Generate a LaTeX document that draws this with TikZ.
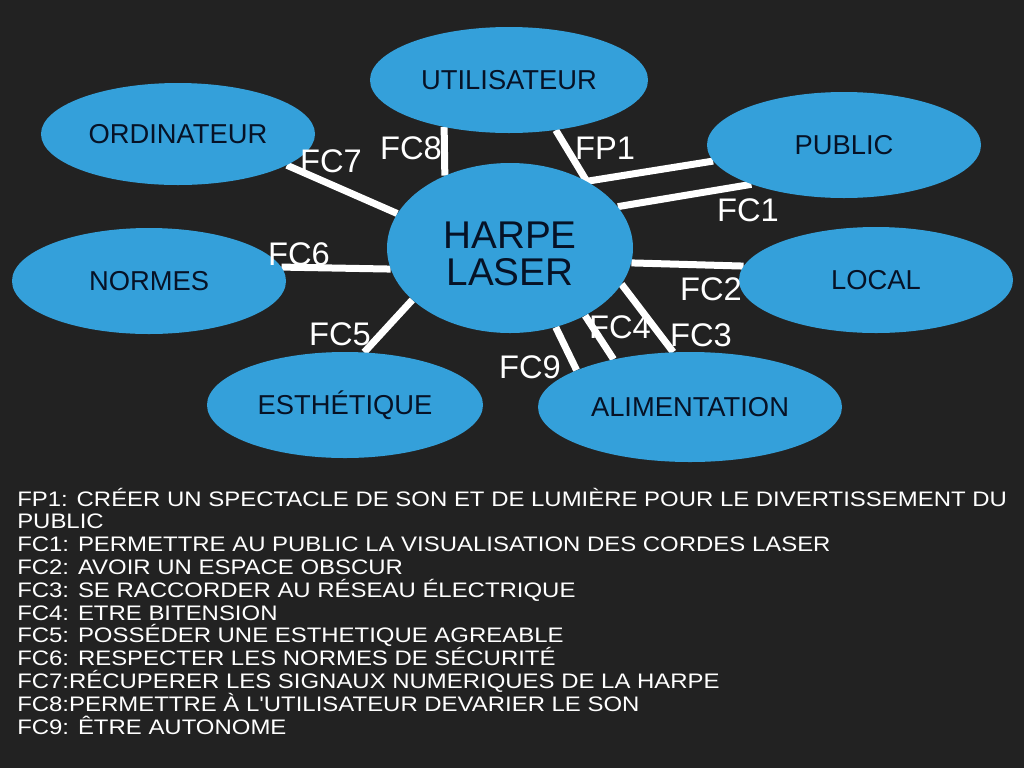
\documentclass[tikz,border=0pt]{standalone}
\usepackage{fontspec}
\setmainfont{Liberation Sans}
\newfontfamily\listefont[FakeStretch=1.14]{Liberation Sans}
\usetikzlibrary{shapes.geometric}
\usetikzlibrary{backgrounds}
\definecolor{fond}{RGB}{34,34,34}
\definecolor{bulle}{RGB}{52,160,218}
\definecolor{encre}{RGB}{6,18,38}
\tikzset{
  milieu/.style={ellipse,fill=bulle,inner sep=0,minimum width=205.5pt,minimum height=79.5pt,
    text=encre,text height=14.7pt,text depth=0pt,font=\fontsize{20.5}{24}\selectfont},
  produit/.style={ellipse,fill=bulle,inner sep=0,minimum width=184.5pt,minimum height=127.5pt},
  fonction/.style={text=white,inner sep=0,font=\fontsize{24.5}{28}\selectfont},
  liaison/.style={draw=white,line width=5.25pt},
  ligne/.style={text=white,inner sep=0,anchor=base west,font=\listefont\fontsize{15.75}{17}\selectfont}
}

\begin{document}
\begin{tikzpicture}[x=0.75pt,y=-0.75pt]
  \useasboundingbox (0,0) rectangle (1024,768);
  % elements du milieu exterieur
  \node[milieu,minimum width=208.5pt] (util) at (509,80) {UTILISATEUR};
  \node[milieu,minimum height=76.5pt] (ordi) at (178,134) {ORDINATEUR};
  \node[milieu] (normes) at (149,281) {NORMES};
  \node[milieu,minimum width=207pt] (esth) at (345,405) {ESTHÉTIQUE};
  \node[milieu] (public) at (844,145) {PUBLIC};
  \node[milieu] (local) at (876,280) {LOCAL};
  \node[milieu,minimum width=228pt,minimum height=82.5pt] (alim) at (690,407) {ALIMENTATION};
  % produit
  \node[produit] (harpe) at (510,248) {};
  \node[text=encre,inner sep=0,align=center,font=\fontsize{29}{27.75}\selectfont] (harpetexte) at (510,254) {HARPE\\LASER};
  % fonctions
  \node[fonction] (fc7) at (331,161) {FC7};
  \node[fonction] (fc8) at (411,148) {FC8};
  \node[fonction] (fp1) at (605,148) {FP1};
  \node[fonction] (fc1) at (748,210) {FC1};
  \node[fonction] (fc2) at (711,289) {FC2};
  \node[fonction] (fc3) at (701,335) {FC3};
  \node[fonction] (fc4) at (620,327) {FC4};
  \node[fonction] (fc9) at (530,367) {FC9};
  \node[fonction] (fc5) at (340,334) {FC5};
  \node[fonction] (fc6) at (299,254) {FC6};
  \begin{scope}[on background layer]
    \fill[fond] (0,0) rectangle (1024,768);
    \draw[liaison] (ordi.-16) -- (harpe.163);
    \draw[liaison] (util.-144) -- (harpe.132);
    \draw[liaison] (util.-47) -- (harpe.41) -- (public.187);
    \draw[liaison] (harpe.21) -- (public.-157);
    \draw[liaison] (harpe.-7) -- (local.174);
    \draw[liaison] (harpe.-18) -- (alim.107);
    \draw[liaison] (harpe.-42) -- (alim.148);
    \draw[liaison] (harpe.-60) -- (alim.162);
    \draw[liaison] (harpe.-152) -- (esth.70);
    \draw[liaison] (normes.6) -- (harpe.-170);
  \end{scope}
  % legende
  \foreach \t [count=\i from 0] in {FP1: CRÉER UN SPECTACLE DE SON ET DE LUMIÈRE POUR LE DIVERTISSEMENT DU,
    PUBLIC,
    FC1: PERMETTRE AU PUBLIC LA VISUALISATION DES CORDES LASER,
    FC2: AVOIR UN ESPACE OBSCUR,
    FC3: SE RACCORDER AU RÉSEAU ÉLECTRIQUE,
    FC4: ETRE BITENSION,
    FC5: POSSÉDER UNE ESTHETIQUE AGREABLE,
    FC6: RESPECTER LES NORMES DE SÉCURITÉ,
    FC7:RÉCUPERER LES SIGNAUX NUMERIQUES DE LA HARPE,
    FC8:PERMETTRE À L'UTILISATEUR DEVARIER LE SON,
    FC9: ÊTRE AUTONOME}
    \node[ligne] (l\i) at (17,506+22.8*\i) {\t};
\end{tikzpicture}
\end{document}
